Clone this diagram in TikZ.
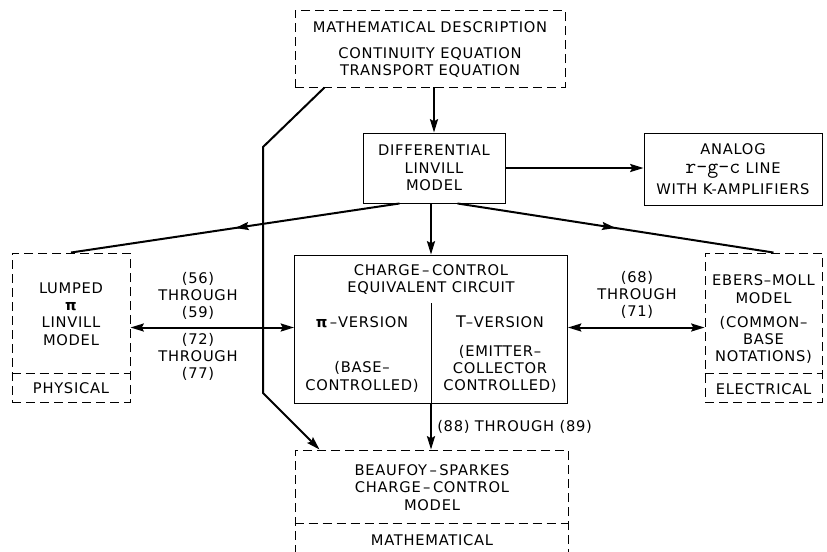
\documentclass[tikz,border=0pt]{standalone}
\usepackage{fontspec}
\setmainfont{DejaVu Sans}[LetterSpace=5]
\usetikzlibrary{positioning,arrows.meta,calc,decorations.markings}
\tikzset{
  flow/.style={-{Stealth[length=10pt,width=6pt,inset=1.5pt]},line width=1.5pt},
  twoflow/.style={{Stealth[length=10pt,width=6pt,inset=1.5pt]}-{Stealth[length=10pt,width=6pt,inset=1.5pt]},line width=1.5pt},
  plainflow/.style={line width=1.5pt},
  midflow/.style={line width=1.5pt,postaction={decorate},
    decoration={markings,mark=at position 0.5 with {\arrow{Stealth[length=10pt,width=6pt,inset=1.5pt]}}}},
  box/.style={draw,line width=0.7pt,inner sep=0pt,align=center,font=\fontsize{11}{13}\selectfont},
  dashbox/.style={draw,line width=0.7pt,dash pattern=on 7pt off 3.5pt,inner sep=0pt},
  divider/.style={line width=0.7pt,dash pattern=on 7pt off 3.5pt},
  txt/.style={align=center,inner sep=0pt,font=\fontsize{11}{13}\selectfont}
}

\begin{document}
\begin{tikzpicture}[x=0.75pt,y=-0.75pt]
  \useasboundingbox (0,0) rectangle (827,551);
  % boxes
  \node[dashbox,minimum width=202.5pt,minimum height=57.75pt] (desc) at (430,48.5) {};
  \node[box,minimum width=106.5pt,minimum height=52.5pt] (diff) at (434,168) {DIFFERENTIAL\\LINVILL\\MODEL};
  \node[box,minimum width=133.5pt,minimum height=54pt] (analog) at (733,169)
    {ANALOG\\[1pt]{\ttfamily\fontsize{16}{13}\selectfont r-g-c} LINE\\[3pt]WITH K-AMPLIFIERS};
  \node[dashbox,minimum width=88.5pt,minimum height=111.75pt] (lumped) at (71,327.5) {};
  \node[box,minimum width=204.75pt,minimum height=111pt] (cc) at (431,329) {};
  \node[dashbox,minimum width=87.75pt,minimum height=111.75pt] (ebers) at (763.5,327.5) {};
  \node[dashbox,minimum width=204.75pt,minimum height=86.25pt] (beau) at (431.5,507.5) {};
  % dividers
  \draw[divider] (lumped.west |- 0,373) -- (lumped.east |- 0,373);
  \draw[divider] (ebers.west |- 0,373) -- (ebers.east |- 0,373);
  \draw[divider] (beau.west |- 0,523) -- (beau.east |- 0,523);
  \draw[line width=0.7pt] (cc.south |- 0,303) -- (cc.south);
  % texts
  \node[txt] (descT) at (430,27) {MATHEMATICAL DESCRIPTION};
  \node[txt] (descB) at (430,62.5) {CONTINUITY EQUATION\\TRANSPORT EQUATION};
  \node[txt] (lumpedT) at (71,314) {LUMPED\\{\bfseries π}\\LINVILL\\MODEL};
  \node[txt] (lumpedB) at (71,388) {PHYSICAL};
  \node[txt] (ccT) at (431,279.5) {CHARGE\,--\,CONTROL\\EQUIVALENT CIRCUIT};
  \node[txt] (piV) at (362,322) {{\bfseries π}\,--VERSION};
  \node[txt] (tV) at (500,322) {{\large T}--VERSION};
  \node[txt] (baseC) at (362,377) {(BASE--\\CONTROLLED)};
  \node[txt] (emC) at (500,369) {(EMITTER--\\COLLECTOR\\CONTROLLED)};
  \node[txt] (ebT) at (763.5,289) {EBERS--MOLL\\MODEL};
  \node[txt] (ebB) at (763.5,340) {(COMMON--\\BASE\\NOTATIONS)};
  \node[txt] (ebC) at (763.5,389) {ELECTRICAL};
  \node[txt] (beauT) at (432,487.5) {BEAUFOY\,--\,SPARKES\\CHARGE\,--\,CONTROL\\MODEL};
  \node[txt] (beauB) at (432,540) {MATHEMATICAL};
  \node[txt] (lblA) at (198,296) {(56)\\THROUGH\\(59)};
  \node[txt] (lblB) at (198,357) {(72)\\THROUGH\\(77)};
  \node[txt] (lblC) at (637,295) {(68)\\THROUGH\\(71)};
  \node[txt,anchor=west] (lblD) at (437,427) {(88) THROUGH (89)};
  % connectors
  \coordinate (bendA) at (263,147);
  \coordinate (bendB) at (263,393);
  \draw[flow] (diff.north |- desc.south) -- (diff.north);
  \draw[flow] (diff.east) -- (diff.east -| analog.west);
  \draw[flow] (cc.north |- diff.south) -- (cc.north);
  \draw[midflow] ($(diff.south west)+(37,0)$) -- (lumped.north);
  \draw[midflow] ($(diff.south east)+(-48,0)$) -- ($(ebers.north)+(10,0)$);
  \draw[twoflow] (lumped.east) -- (lumped.east -| cc.west);
  \draw[twoflow] (cc.east |- ebers.west) -- (ebers.west);
  \draw[flow] (cc.south) -- (cc.south |- beau.north);
  \draw[flow] ($(desc.south west)+(30,0)$) -- (bendA) -- (bendB) -- ($(beau.north west)+(25,0)$);
\end{tikzpicture}
\end{document}
